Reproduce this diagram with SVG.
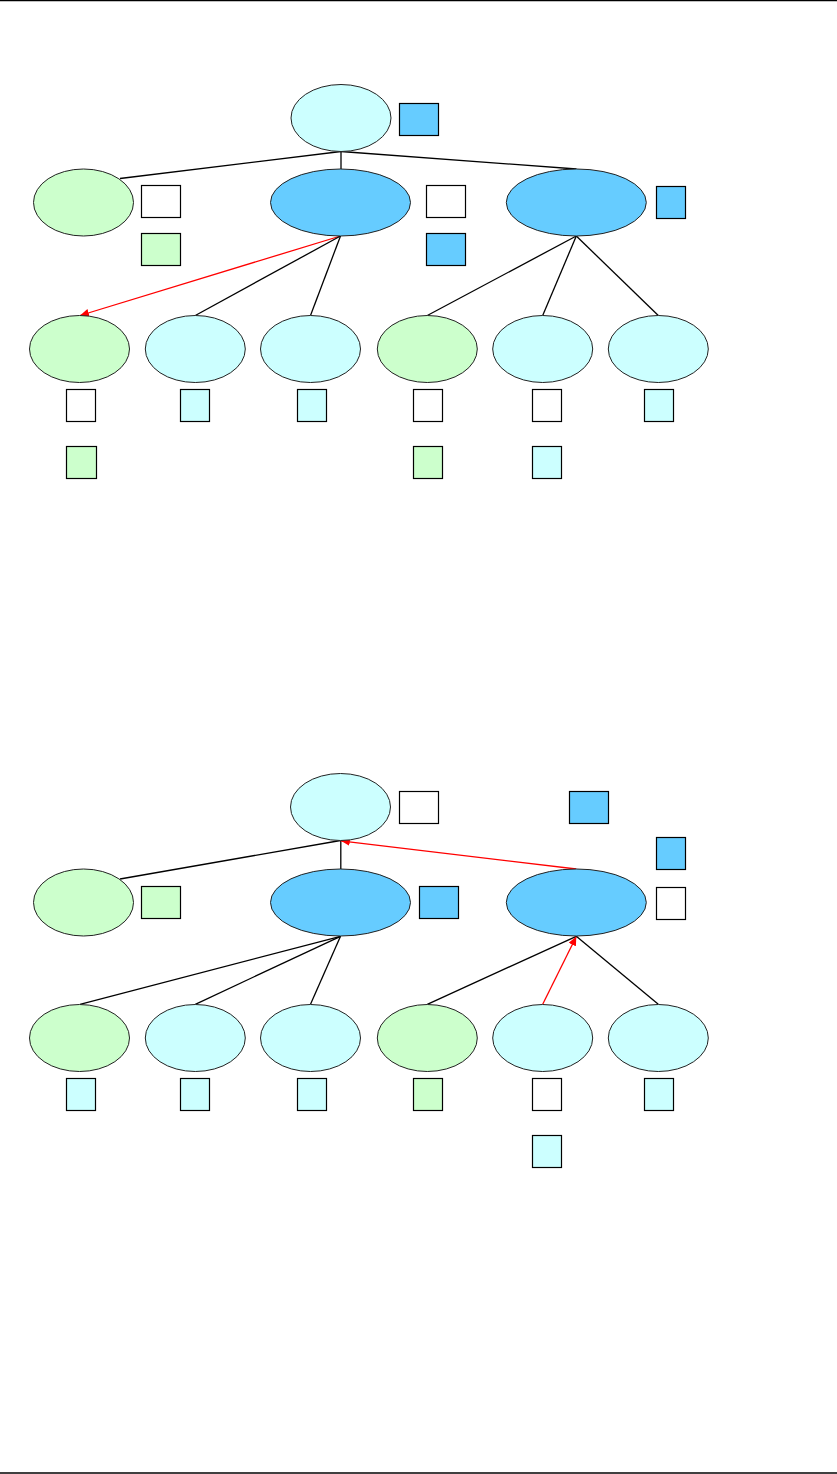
<svg xmlns="http://www.w3.org/2000/svg" width="837" height="1474" viewBox="0 0 837 1474">
<style>
.lc{fill:#CCFFFF;stroke:#222;stroke-width:1}
.bl{fill:#66CCFF;stroke:#222;stroke-width:1}
.gr{fill:#CCFFCC;stroke:#222;stroke-width:1}
.sw{fill:#FFFFFF;stroke:#000;stroke-width:1.2}
.sc{fill:#CCFFFF;stroke:#000;stroke-width:1.2}
.sb{fill:#66CCFF;stroke:#000;stroke-width:1.2}
.sg{fill:#CCFFCC;stroke:#000;stroke-width:1.2}
.e{stroke:#000;stroke-width:1.3;fill:none}
.r{stroke:#FF0000;stroke-width:1.3;fill:none;marker-end:url(#ah)}
.frame{stroke:#000;stroke-width:1.3}
</style>
<defs>
<marker id="ah" markerUnits="userSpaceOnUse" markerWidth="10" markerHeight="8" refX="9" refY="4" orient="auto">
<path d="M0,0 L9,4 L0,8 Z" fill="#FF0000"/>
</marker>
</defs>
<rect x="0" y="0" width="837" height="1474" fill="#FFFFFF"/>
<line class="frame" x1="0" y1="0.6" x2="837" y2="0.6"/>
<line class="frame" x1="0" y1="1473" x2="837" y2="1473"/>

<g id="connectors">
<!-- diagram 1 -->
<line class="e" x1="341" y1="151.5" x2="120" y2="178.5"/>
<line class="e" x1="341" y1="151.5" x2="341" y2="169"/>
<line class="e" x1="341" y1="151.5" x2="576.5" y2="169"/>
<line class="r" x1="340.5" y1="236" x2="80" y2="315.5"/>
<line class="e" x1="340.5" y1="236" x2="195.3" y2="315.5"/>
<line class="e" x1="340.5" y1="236" x2="310.5" y2="315.5"/>
<line class="e" x1="576.3" y1="236" x2="427.3" y2="315.5"/>
<line class="e" x1="576.3" y1="236" x2="542.7" y2="315.5"/>
<line class="e" x1="576.3" y1="236" x2="658.3" y2="315.5"/>
<!-- diagram 2 -->
<line class="e" x1="340.5" y1="840.5" x2="120" y2="879"/>
<line class="e" x1="340.8" y1="840.5" x2="340.8" y2="869"/>
<line class="r" x1="576.3" y1="869" x2="340.8" y2="840.8"/>
<line class="e" x1="340.5" y1="936.3" x2="80" y2="1004.3"/>
<line class="e" x1="340.5" y1="936.3" x2="195.3" y2="1004.3"/>
<line class="e" x1="340.5" y1="936.3" x2="310.5" y2="1004.3"/>
<line class="e" x1="576.3" y1="936.3" x2="427.3" y2="1004.3"/>
<line class="r" x1="542.7" y1="1004.3" x2="576.3" y2="936.5"/>
<line class="e" x1="576.3" y1="936.3" x2="658.3" y2="1004.3"/>
</g>

<!-- diagram 1 nodes -->
<g id="d1-root"><ellipse class="lc" cx="341" cy="118" rx="50" ry="33.5"/><rect class="sb" x="399.5" y="103.5" width="39" height="32"/></g>
<g id="d1-l1a"><ellipse class="gr" cx="83.5" cy="202.5" rx="50" ry="33.5"/><rect class="sw" x="141.5" y="185.5" width="39" height="32"/><rect class="sg" x="141.5" y="233.5" width="39" height="32"/></g>
<g id="d1-l1b"><ellipse class="bl" cx="340.5" cy="202.5" rx="70" ry="33.5"/><rect class="sw" x="426.5" y="185.5" width="39" height="32"/><rect class="sb" x="426.5" y="233.5" width="39" height="32"/></g>
<g id="d1-l1c"><ellipse class="bl" cx="576.3" cy="202.5" rx="70" ry="33.5"/><rect class="sb" x="656.5" y="186.5" width="29" height="32"/></g>
<g id="d1-l2a"><ellipse class="gr" cx="79.5" cy="349" rx="50" ry="33.5"/><rect class="sw" x="66.5" y="389.5" width="29" height="32"/><rect class="sg" x="66.5" y="446.5" width="30" height="32"/></g>
<g id="d1-l2b"><ellipse class="lc" cx="195.3" cy="349" rx="50" ry="33.5"/><rect class="sc" x="180.5" y="389.5" width="29" height="32"/></g>
<g id="d1-l2c"><ellipse class="lc" cx="310.5" cy="349" rx="50" ry="33.5"/><rect class="sc" x="297.5" y="389.5" width="29" height="32"/></g>
<g id="d1-l2d"><ellipse class="gr" cx="427.3" cy="349" rx="50" ry="33.5"/><rect class="sw" x="413.5" y="389.5" width="29" height="32"/><rect class="sg" x="413.5" y="446.5" width="29" height="32"/></g>
<g id="d1-l2e"><ellipse class="lc" cx="542.7" cy="349" rx="50" ry="33.5"/><rect class="sw" x="532.5" y="389.5" width="29" height="32"/><rect class="sc" x="532.5" y="446.5" width="29" height="32"/></g>
<g id="d1-l2f"><ellipse class="lc" cx="658.3" cy="349" rx="50" ry="33.5"/><rect class="sc" x="644.5" y="389.5" width="29" height="32"/></g>

<!-- diagram 2 nodes -->
<g id="d2-root"><ellipse class="lc" cx="340.5" cy="807" rx="50" ry="33.5"/><rect class="sw" x="399.5" y="791.5" width="39" height="32"/><rect class="sb" x="569.5" y="791.5" width="39" height="32"/></g>
<g id="d2-l1a"><ellipse class="gr" cx="83.5" cy="902.5" rx="50" ry="33.5"/><rect class="sg" x="141.5" y="886.5" width="39" height="32"/></g>
<g id="d2-l1b"><ellipse class="bl" cx="340.5" cy="902.5" rx="70" ry="33.5"/><rect class="sb" x="419.5" y="886.5" width="39" height="32"/></g>
<g id="d2-l1c"><ellipse class="bl" cx="576.3" cy="902.5" rx="70" ry="33.5"/><rect class="sb" x="656.5" y="837.5" width="29" height="32"/><rect class="sw" x="656.5" y="887.5" width="29" height="32"/></g>
<g id="d2-l2a"><ellipse class="gr" cx="79.5" cy="1038" rx="50" ry="33.5"/><rect class="sc" x="66.5" y="1078.5" width="29" height="32"/></g>
<g id="d2-l2b"><ellipse class="lc" cx="195.3" cy="1038" rx="50" ry="33.5"/><rect class="sc" x="180.5" y="1078.5" width="29" height="32"/></g>
<g id="d2-l2c"><ellipse class="lc" cx="310.5" cy="1038" rx="50" ry="33.5"/><rect class="sc" x="297.5" y="1078.5" width="29" height="32"/></g>
<g id="d2-l2d"><ellipse class="gr" cx="427.3" cy="1038" rx="50" ry="33.5"/><rect class="sg" x="413.5" y="1078.5" width="29" height="32"/></g>
<g id="d2-l2e"><ellipse class="lc" cx="542.7" cy="1038" rx="50" ry="33.5"/><rect class="sw" x="532.5" y="1078.5" width="29" height="32"/><rect class="sc" x="532.5" y="1135.5" width="29" height="32"/></g>
<g id="d2-l2f"><ellipse class="lc" cx="658.3" cy="1038" rx="50" ry="33.5"/><rect class="sc" x="644.5" y="1078.5" width="29" height="32"/></g>
</svg>
